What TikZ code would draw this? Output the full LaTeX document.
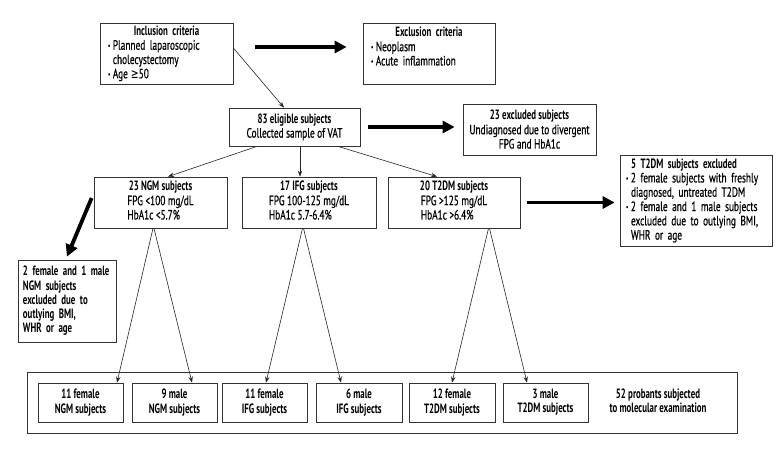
\documentclass[tikz,border=0pt]{standalone}
\usepackage{fontspec}
\setmainfont{PT Sans}[UprightFeatures={FakeStretch=0.69, FakeBold=0.6}, BoldFeatures={FakeStretch=0.655}]
\newfontfamily\djv{DejaVu Sans}[FakeStretch=0.69]
\usetikzlibrary{arrows.meta}
\newcommand{\myfs}{\fontsize{13.5}{14.3}\selectfont}
\newcommand{\bl}{\raisebox{1.6pt}{\fontsize{7.5}{7.5}\selectfont\textbullet}\hspace{2.5pt}}
\begin{document}
\begin{tikzpicture}[x=1pt,y=-1pt,
  bx/.style={draw=black!80, line width=0.75pt, inner sep=0pt, font=\myfs},
  tarr/.style={draw=black!85, line width=0.6pt, -{Stealth[length=6pt,width=4.5pt]}},
  thkarr/.style={draw=black, line width=3.8pt, -{Triangle[length=12pt,width=12pt]}}]
\useasboundingbox (0,0) rectangle (780,456);
\fill[white] (0,0) rectangle (780,456);

% top row
\node[bx, minimum width=133pt, minimum height=61pt, text width=117pt, align=left] (incl) at (166.5,53.5)
  {{\centering\bfseries Inclusion criteria\par}\bl Planned laparoscopic\\\phantom{\bl}cholecystectomy\\\bl Age \hspace{-1.5pt}{\djv ≥}50};
\node[bx, minimum width=132pt, minimum height=61pt, text width=116pt, align=left] (excl) at (429,53.5)
  {{\centering\bfseries Exclusion criteria\par}\bl Neoplasm\\\bl Acute inflammation\\\mbox{}};

% eligible
\node[bx, minimum width=131pt, minimum height=38pt, align=center] (elig) at (294.5,127)
  {\textbf{83 eligible subjects}\\Collected sample of VAT};
\node[bx, minimum width=133pt, minimum height=51pt, align=center] (excl23) at (529.5,129.5)
  {\textbf{23 excluded subjects}\\Undiagnosed due to divergent\\FPG and HbA1c};

% groups
\node[bx, minimum width=133pt, minimum height=51pt, align=center] (ngm) at (160.5,202.5)
  {\textbf{23 NGM subjects}\\\begin{tabular}[t]{@{}l@{}}FPG <100 mg/dL\\HbA1c <5.7\%\end{tabular}};
\node[bx, minimum width=134pt, minimum height=51pt, align=center] (ifg) at (309,202.5)
  {\textbf{17 IFG subjects}\\\begin{tabular}[t]{@{}l@{}}FPG 100-125 mg/dL\\HbA1c 5.7-6.4\%\end{tabular}};
\node[bx, minimum width=132pt, minimum height=51pt, align=center] (t2dm) at (454,202.5)
  {\textbf{20 T2DM subjects}\\\begin{tabular}[t]{@{}l@{}}FPG >125 mg/dL\\HbA1c >6.4\%\end{tabular}};

\node[bx, minimum width=152pt, minimum height=91pt, text width=140pt, align=left] (ex5) at (696,200.5)
  {\hspace*{5pt}\textbf{5 T2DM subjects excluded}\\\bl 2 female subjects with freshly\\\hspace*{5pt}diagnosed, untreated T2DM\\\bl 2 female and 1 male subjects\\\hspace*{5pt}excluded due to outlying BMI,\\\hspace*{5pt}WHR or age};
\node[bx, minimum width=98pt, minimum height=82pt, text width=88pt, align=left, font=\myfs\bfseries] (exngm) at (67,301)
  {\mbox{2 female and 1 male}\\NGM subjects\\excluded due to\\outlying BMI,\\WHR or age};

% bottom
\node[bx, minimum width=710pt, minimum height=61pt] (outer) at (382,402.5) {};
\node[bx, minimum width=85pt, minimum height=39pt, align=center, font=\myfs\bfseries] (f1) at (80.5,402.5) {11 female\\NGM subjects};
\node[bx, minimum width=85pt, minimum height=39pt, align=center, font=\myfs\bfseries] (m1) at (174.5,402.5) {9 male\\NGM subjects};
\node[bx, minimum width=85pt, minimum height=39pt, align=center, font=\myfs\bfseries] (f2) at (264.5,402.5) {11 female\\IFG subjects};
\node[bx, minimum width=86pt, minimum height=39pt, align=center, font=\myfs\bfseries] (m2) at (359,402.5) {6 male\\IFG subjects};
\node[bx, minimum width=86pt, minimum height=39pt, align=center, font=\myfs\bfseries] (f3) at (452,402.5) {12 female\\T2DM subjects};
\node[bx, minimum width=85pt, minimum height=39pt, align=center, font=\myfs\bfseries] (m3) at (545.5,402.5) {3 male\\T2DM subjects};
\node[align=center, font=\myfs\bfseries, inner sep=0pt] (probants) at (658,401) {52 probants subjected\\to molecular examination};

% arrows
\draw[tarr] ([yshift=5.5pt]incl.east) -- ([xshift=-10.5pt]elig.north);
\draw[thkarr] ([xshift=22pt,yshift=6.5pt]incl.east) -- ([xshift=-16pt,yshift=6.5pt]excl.west);
\draw[thkarr, shorten <=8pt, shorten >=8pt] (elig.east) -- (elig.east -| excl23.west);
\draw[thkarr, shorten <=7pt, shorten >=5pt] (t2dm.east) -- (t2dm.east -| ex5.west);
\draw[thkarr] ([xshift=-2pt,yshift=4.5pt]ngm.west) -- ([xshift=0pt,yshift=3pt]exngm.north);

\draw[tarr] ([xshift=-37.5pt]elig.south) -- ([xshift=7.5pt]ngm.north);
\draw[tarr] ([xshift=5.5pt]elig.south) -- ([xshift=-9pt]ifg.north);
\draw[tarr] ([xshift=43.5pt]elig.south) -- ([xshift=-17pt]t2dm.north);

\draw[tarr] ([xshift=-7.5pt]ngm.south) -- ([xshift=36.5pt]f1.north);
\draw[tarr] ([xshift=-6.5pt]ngm.south) -- ([xshift=17.5pt]m1.north);
\draw[tarr] ([xshift=-6.5pt]ifg.south) -- ([xshift=1.5pt]f2.north);
\draw[tarr] ([xshift=-5.5pt]ifg.south) -- ([xshift=-18pt]m2.north);
\draw[tarr] ([xshift=34.5pt]t2dm.south) -- (f3.north);
\draw[tarr] ([xshift=35.5pt]t2dm.south) -- ([xshift=-18.5pt]m3.north);
\end{tikzpicture}
\end{document}
